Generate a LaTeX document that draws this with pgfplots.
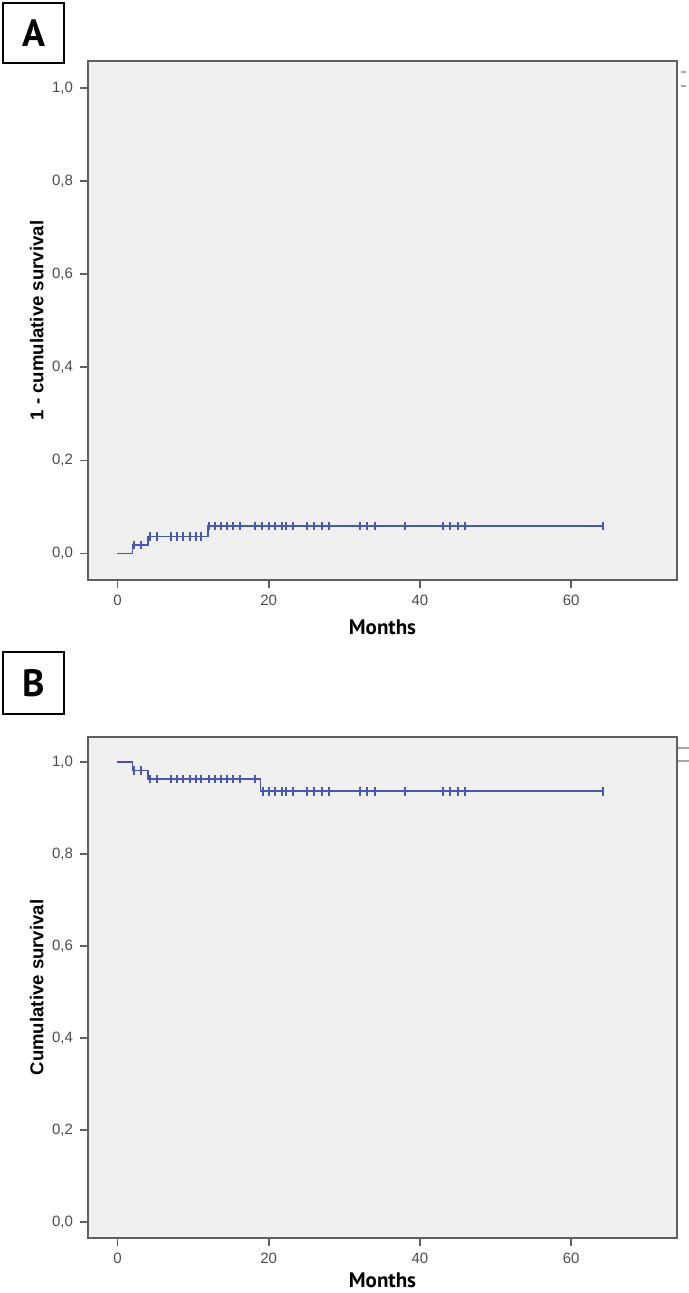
\documentclass[border=0pt]{standalone}
\usepackage{fontspec}
\setmainfont{Liberation Sans}
\newfontfamily\ptsans{PT Sans}
\usepackage{pgfplots}
\pgfplotsset{compat=1.18}

\definecolor{km}{RGB}{72,88,175}
\definecolor{frame}{RGB}{95,95,95}

\pgfplotsset{kmstyle/.style={
  scale only axis, width=294.5pt,
  xmin=-3.9, xmax=74,
  axis background/.style={fill=gray!12},
  axis line style={draw=frame, line width=1pt},
  tick align=outside, xtick pos=bottom, ytick pos=left,
  major tick length=4pt,
  tick style={draw=frame, line width=0.8pt},
  xtick={0,20,40,60}, ytick={0,0.2,0.4,0.6,0.8,1},
  yticklabel style={/pgf/number format/.cd, use comma, fixed, fixed zerofill, precision=1},
  /pgf/number format/assume math mode=true,
  ticklabel style={font=\fontsize{7.5}{8.5}\selectfont, text=gray!60!black},
  xlabel={\ptsans\bfseries Months},
  ylabel style={font=\bfseries\fontsize{9.3}{11}\selectfont, at={(axis description cs:-0.087,0.5)}, anchor=center},
}}

\begin{document}
\begin{tikzpicture}
\useasboundingbox (0,0) rectangle (344.5pt,-646.5pt);

% panel labels
\node[draw, line width=1pt, minimum width=30.5pt, minimum height=30pt, anchor=north west, inner sep=0pt] at (1pt,-1pt) {\ptsans\bfseries\fontsize{19}{19}\selectfont A};
\node[draw, line width=1pt, minimum width=30.5pt, minimum height=31pt, anchor=north west, inner sep=0pt] at (1pt,-325.5pt) {\ptsans\bfseries\fontsize{19}{19}\selectfont B};

% Panel A
\begin{axis}[kmstyle, at={(44pt,-30.5pt)}, anchor=north west, height=259.5pt,
  ymin=-0.057, ymax=1.058,
  ylabel={1 - cumulative survival},
  xlabel style={font=\fontsize{10.5}{12}\selectfont, at={(axis description cs:0.5,-0.091)}, anchor=center}]
\addplot[km, line width=0.8pt, const plot] coordinates {(0,0) (2,0.0182) (4,0.0364) (12,0.0588) (64.2,0.0588)};
\addplot[km, only marks, mark=|, mark size=2.2pt, mark options={line width=1pt}] coordinates {
(2.2,0.0182) (3.1,0.0182)
(4.3,0.0364) (5.2,0.0364) (7.1,0.0364) (7.9,0.0364) (8.7,0.0364) (9.6,0.0364) (10.4,0.0364) (11.1,0.0364)
(12.1,0.0588) (12.9,0.0588) (13.7,0.0588) (14.5,0.0588) (15.3,0.0588) (16.2,0.0588) (18.2,0.0588) (19.1,0.0588)
(20,0.0588) (20.8,0.0588) (21.7,0.0588) (22.3,0.0588) (23.2,0.0588) (25.1,0.0588) (26,0.0588) (27,0.0588) (28,0.0588)
(32.1,0.0588) (33,0.0588) (34,0.0588) (38,0.0588) (43.1,0.0588) (44,0.0588) (45,0.0588) (46,0.0588) (64.2,0.0588)};
\end{axis}
\draw[gray!70, line width=0.6pt] (340.5pt,-36pt) -- (343pt,-36pt);
\draw[gray!70, line width=0.6pt] (340.5pt,-43pt) -- (343pt,-43pt);

% Panel B
\begin{axis}[kmstyle, at={(44pt,-368.5pt)}, anchor=north west, height=250.5pt,
  ymin=-0.035, ymax=1.055,
  ylabel={Cumulative survival},
  xlabel style={font=\fontsize{10.5}{12}\selectfont, at={(axis description cs:0.5,-0.084)}, anchor=center}]
\addplot[km, line width=0.8pt, const plot] coordinates {(0,1) (2,0.9818) (4,0.9636) (18.9,0.937) (64.2,0.937)};
\addplot[km, only marks, mark=|, mark size=2.2pt, mark options={line width=1pt}] coordinates {
(2.2,0.9818) (3.1,0.9818)
(4.3,0.9636) (5.2,0.9636) (7.1,0.9636) (7.9,0.9636) (8.7,0.9636) (9.6,0.9636) (10.4,0.9636) (11.1,0.9636)
(12.1,0.9636) (12.9,0.9636) (13.7,0.9636) (14.5,0.9636) (15.3,0.9636) (16.2,0.9636) (18.2,0.9636)
(19.3,0.937) (20,0.937) (20.8,0.937) (21.7,0.937) (22.3,0.937) (23.2,0.937) (25.1,0.937) (26,0.937) (27,0.937) (28,0.937)
(32.1,0.937) (33,0.937) (34,0.937) (38,0.937) (43.1,0.937) (44,0.937) (45,0.937) (46,0.937) (64.2,0.937)};
\end{axis}
\draw[gray!70, line width=0.6pt] (339pt,-374pt) -- (344.5pt,-374pt);
\draw[gray!70, line width=0.6pt] (339pt,-380.5pt) -- (344.5pt,-380.5pt);
\end{tikzpicture}
\end{document}
